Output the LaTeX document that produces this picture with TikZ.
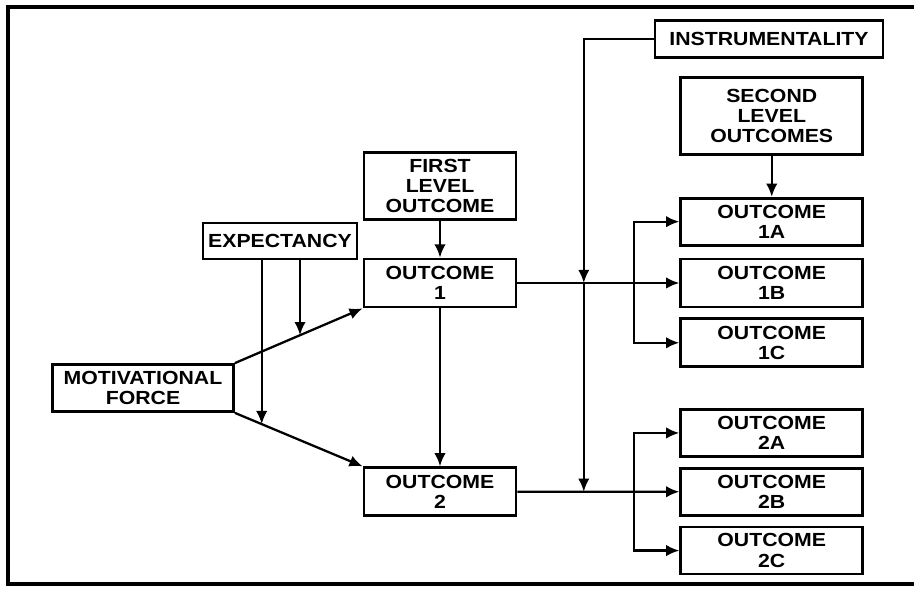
\documentclass[tikz,border=0pt]{standalone}
\usepackage{fontspec}
\setmainfont{Liberation Sans}[FakeStretch=1.12]
\usetikzlibrary{shapes,arrows.meta,positioning,calc}

\begin{document}
\begin{tikzpicture}[x=0.02cm,y=-0.02cm,node distance=1cm,>={Latex[length=7.5pt,width=6.5pt]},
  box/.style={draw,line width=1.6pt,inner sep=0pt,align=center,
    font=\fontsize{10.8}{11.5}\selectfont\bfseries},
  link/.style={draw,line width=1.3pt}]
\useasboundingbox (0,0) rectangle (914,590);
% frame
\draw[line width=2.6pt] (914,7) -- (8,7) -- (8,584) -- (914,584);

\node[box, minimum width=3.62cm, minimum height=0.94cm] (mf) at (143,388) {MOTIVATIONAL\\FORCE};
\node[box, minimum width=3.08cm, minimum height=0.72cm] (exp) at (280,241) {EXPECTANCY};
\node[box, minimum width=3.04cm, minimum height=0.96cm] (o1) at (440,283) {OUTCOME\\1};
\node[box, minimum width=3.04cm, minimum height=1.34cm, above=0.74cm of o1] (flo) {FIRST\\LEVEL\\OUTCOME};
\node[box, minimum width=3.04cm, minimum height=0.96cm, below=3.16cm of o1] (o2) {OUTCOME\\2};
\node[box, minimum width=3.64cm, minimum height=0.96cm, right=3.24cm of o1] (o1b) {OUTCOME\\1B};
\node[box, minimum width=3.64cm, minimum height=0.94cm, above=0.22cm of o1b] (o1a) {OUTCOME\\1A};
\node[box, minimum width=3.64cm, minimum height=0.96cm, below=0.18cm of o1b] (o1c) {OUTCOME\\1C};
\node[box, minimum width=3.64cm, minimum height=1.54cm, above=0.82cm of o1a] (slo) {SECOND\\LEVEL\\OUTCOMES};
\node[box, minimum width=4.56cm, minimum height=0.74cm] (instr) at (769,39) {INSTRUMENTALITY};
\node[box, minimum width=3.64cm, minimum height=0.94cm, right=3.24cm of o2] (o2b) {OUTCOME\\2B};
\node[box, minimum width=3.64cm, minimum height=0.94cm, above=0.18cm of o2b] (o2a) {OUTCOME\\2A};
\node[box, minimum width=3.64cm, minimum height=0.94cm, below=0.18cm of o2b] (o2c) {OUTCOME\\2C};

% points on the lines
\coordinate (e1) at ($(mf.south east)!0.21!(o2.north west)$);
\coordinate (e2) at ($(mf.north east)!0.51!(o1.south west)$);
\coordinate (i1) at ($(o1.east)!0.41!(o1b.west)$);
\coordinate (i2) at ($(o2.east)!0.41!(o2b.west)$);
\coordinate (b1) at ($(o1.east)!0.72!(o1b.west)$);
\coordinate (b2) at ($(o2.east)!0.72!(o2b.west)$);

\path[link,->] (mf.north east) -- (o1.south west);
\path[link,->] (mf.south east) -- (o2.north west);
\path[link,->] (exp.south -| e1) -- (e1);
\path[link,->] (exp.south -| e2) -- (e2);
\path[link,->] (flo) -- (o1);
\path[link,->] (o1) -- (o2);
\path[link,->] (slo) -- (o1a);
\path[link,->] (instr.west) -| (i1);
\path[link,->] (i1) -- (i2);
\path[link,->] (o1.east) -- (o1b.west);
\path[link,->] (b1) |- (o1a.west);
\path[link,->] (b1) |- (o1c.west);
\path[link] (o2.east) -- (b2);
\path[link,->] (b2) -- (o2b.west);
\path[link,->] (b2) |- (o2a.west);
\path[link,->] (b2) |- (o2c.west);
\end{tikzpicture}
\end{document}
